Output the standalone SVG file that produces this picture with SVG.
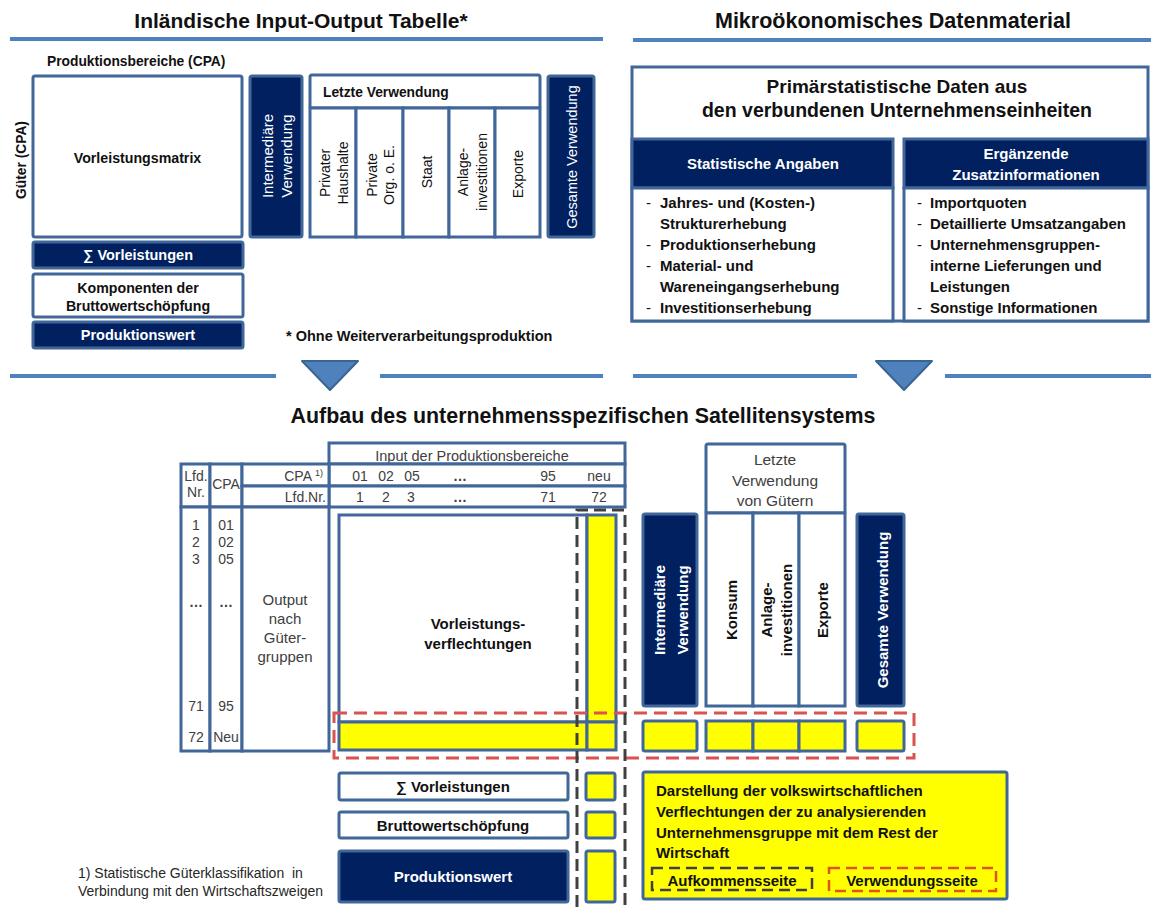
<svg xmlns="http://www.w3.org/2000/svg" width="1151" height="907" viewBox="0 0 1151 907">
<style>
text{font-family:"Liberation Sans",Arial,"DejaVu Sans",sans-serif;fill:#111}
.bx{stroke:#41679a;stroke-width:3}
.w{fill:#fff}
.d{fill:#002060}
.y{fill:#ffff00}
.b{font-weight:bold}
.m{text-anchor:middle}
.e{text-anchor:end}
.wt{fill:#fff}
.g{fill:#404040}
.sep{stroke:#4f81bd;stroke-width:4}
.tri{fill:#4f81bd;stroke:#3a6491;stroke-width:2;stroke-linejoin:round}
</style>

<g id="titles">
<text x="301" y="28" class="b m" font-size="21">Inländische Input-Output Tabelle*</text>
<text x="893" y="28" class="b m" font-size="21.5">Mikroökonomisches Datenmaterial</text>
<text x="583" y="423" class="b m" font-size="21.4">Aufbau des unternehmensspezifischen Satellitensystems</text>
</g>

<g id="separators">
<line x1="10" y1="39" x2="603" y2="39" class="sep"/>
<line x1="633" y1="40" x2="1151" y2="40" class="sep"/>
<line x1="10" y1="376" x2="276" y2="376" class="sep"/>
<line x1="380" y1="376" x2="603" y2="376" class="sep"/>
<line x1="633" y1="376" x2="857" y2="376" class="sep"/>
<line x1="945" y1="376" x2="1151" y2="376" class="sep"/>
<polygon points="302,361 358,361 330,390" class="tri"/>
<polygon points="876,361 932,361 904,390" class="tri"/>
</g>

<!-- Top left: IO table -->
<g id="io-labels">
<text x="47" y="66" class="b" font-size="13.8">Produktionsbereiche (CPA)</text>
<text transform="translate(21,160) rotate(-90)" y="5" class="b m" font-size="13.8">Güter (CPA)</text>
</g>
<g id="vorleistungsmatrix">
<rect x="33" y="76" width="209" height="161" rx="2" class="bx w"/>
<text x="137.5" y="163" class="b m" font-size="14.2">Vorleistungsmatrix</text>
</g>
<g id="intermediaere-top">
<rect x="250" y="76" width="52" height="161" rx="2" class="bx d"/>
<text transform="translate(268,156) rotate(-90)" y="5" class="m wt" font-size="15">Intermediäre</text>
<text transform="translate(287,156) rotate(-90)" y="5" class="m wt" font-size="15">Verwendung</text>
</g>
<g id="letzte-top">
<rect x="310" y="75" width="230" height="33" rx="2" class="bx w"/>
<text x="323" y="97" class="b" font-size="13.8">Letzte Verwendung</text>
<rect x="310" y="108" width="46" height="129" class="bx w"/>
<rect x="356" y="108" width="47" height="129" class="bx w"/>
<rect x="403" y="108" width="46" height="129" class="bx w"/>
<rect x="449" y="108" width="46" height="129" class="bx w"/>
<rect x="495" y="108" width="45" height="129" class="bx w"/>
<text transform="translate(325,173) rotate(-90)" y="5" class="m" font-size="14">Privater</text>
<text transform="translate(343,173) rotate(-90)" y="5" class="m" font-size="14">Haushalte</text>
<text transform="translate(372,175) rotate(-90)" y="5" class="m" font-size="14">Private</text>
<text transform="translate(389,175) rotate(-90)" y="5" class="m" font-size="14">Org. o. E.</text>
<text transform="translate(427,172) rotate(-90)" y="5" class="m" font-size="14">Staat</text>
<text transform="translate(463,172) rotate(-90)" y="5" class="m" font-size="14">Anlage-</text>
<text transform="translate(482,172) rotate(-90)" y="5" class="m" font-size="14">investitionen</text>
<text transform="translate(518,174) rotate(-90)" y="5" class="m" font-size="14">Exporte</text>
</g>
<g id="gesamte-top">
<rect x="548" y="76" width="46" height="161" rx="2" class="bx d"/>
<text transform="translate(572,157) rotate(-90)" y="5" class="m wt" font-size="14.5">Gesamte Verwendung</text>
</g>
<g id="summe-top">
<rect x="33" y="242" width="210" height="26" rx="2" class="bx d"/>
<text x="138" y="260" class="b m wt" font-size="14.5">∑ Vorleistungen</text>
</g>
<g id="komponenten-top">
<rect x="33" y="274" width="210" height="43" rx="2" class="bx w"/>
<text x="138" y="293" class="b m" font-size="14.2">Komponenten der</text>
<text x="138" y="311" class="b m" font-size="14.2">Bruttowertschöpfung</text>
</g>
<g id="produktionswert-top">
<rect x="33" y="322" width="210" height="26" rx="2" class="bx d"/>
<text x="138" y="340" class="b m wt" font-size="14.5">Produktionswert</text>
</g>
<g id="fussnote-top">
<text x="286" y="341" class="b" font-size="14.5">* Ohne Weiterverarbeitungsproduktion</text>
</g>

<!-- Top right: micro data -->
<g id="primaerstatistik">
<rect x="632" y="67" width="516" height="254" class="bx w"/>
<text x="897" y="93" class="b m" font-size="19">Primärstatistische Daten aus</text>
<text x="897" y="117" class="b m" font-size="19.5">den verbundenen Unternehmenseinheiten</text>
</g>
<g id="statistische-angaben">
<rect x="632" y="139" width="261" height="49" class="bx d"/>
<text x="763" y="169" class="b m wt" font-size="15">Statistische Angaben</text>
<rect x="632" y="188" width="261" height="133" class="bx w"/>
<g font-size="15">
<text x="646" y="208">-</text><text x="660" y="208" class="b">Jahres- und (Kosten-)</text>
<text x="660" y="229" class="b">Strukturerhebung</text>
<text x="646" y="250">-</text><text x="660" y="250" class="b">Produktionserhebung</text>
<text x="646" y="271">-</text><text x="660" y="271" class="b">Material- und</text>
<text x="660" y="292" class="b">Wareneingangserhebung</text>
<text x="646" y="313">-</text><text x="660" y="313" class="b">Investitionserhebung</text>
</g>
</g>
<g id="ergaenzende">
<rect x="904" y="139" width="244" height="49" class="bx d"/>
<text x="1026" y="159" class="b m wt" font-size="15">Ergänzende</text>
<text x="1026" y="180" class="b m wt" font-size="15">Zusatzinformationen</text>
<rect x="904" y="188" width="244" height="133" class="bx w"/>
<g font-size="15">
<text x="917" y="208">-</text><text x="930" y="208" class="b">Importquoten</text>
<text x="917" y="229">-</text><text x="930" y="229" class="b">Detaillierte Umsatzangaben</text>
<text x="917" y="250">-</text><text x="930" y="250" class="b">Unternehmensgruppen-</text>
<text x="930" y="271" class="b">interne Lieferungen und</text>
<text x="930" y="292" class="b">Leistungen</text>
<text x="917" y="313">-</text><text x="930" y="313" class="b">Sonstige Informationen</text>
</g>
</g>

<!-- Bottom: satellite system -->
<g id="kopf-input">
<rect x="329" y="443" width="296" height="21" class="bx w"/>
<text x="472" y="461" class="m g" font-size="14.5">Input der Produktionsbereiche</text>
<rect x="329" y="464" width="296" height="22" class="bx w"/>
<rect x="329" y="486" width="296" height="21" class="bx w"/>
<g class="g" font-size="14">
<text x="360" y="481" class="m g">01</text><text x="386" y="481" class="m g">02</text><text x="412" y="481" class="m g">05</text>
<text x="460" y="481" class="m g b">…</text><text x="548" y="481" class="m g">95</text><text x="599" y="481" class="m g">neu</text>
<text x="360" y="502" class="m g">1</text><text x="386" y="502" class="m g">2</text><text x="411" y="502" class="m g">3</text>
<text x="460" y="502" class="m g b">…</text><text x="548" y="502" class="m g">71</text><text x="599" y="502" class="m g">72</text>
</g>
</g>
<g id="kopf-links">
<rect x="181" y="464" width="29" height="43" class="bx w"/>
<rect x="210" y="464" width="32" height="43" class="bx w"/>
<rect x="242" y="464" width="87" height="22" class="bx w"/>
<rect x="242" y="486" width="87" height="21" class="bx w"/>
<text x="196" y="481" class="m g" font-size="14">Lfd.</text>
<text x="196" y="497" class="m g" font-size="14">Nr.</text>
<text x="226" y="489" class="m g" font-size="14">CPA</text>
<text x="312" y="481" class="e g" font-size="14">CPA</text>
<text x="315" y="476" class="g" font-size="9">1)</text>
<text x="326" y="502" class="e g" font-size="14">Lfd.Nr.</text>
</g>
<g id="spalte-lfd">
<rect x="181" y="507" width="29" height="244" class="bx w"/>
<g font-size="14">
<text x="196" y="530" class="m g">1</text><text x="196" y="547" class="m g">2</text><text x="196" y="564" class="m g">3</text>
<text x="196" y="607" class="m g b">…</text><text x="196" y="711" class="m g">71</text><text x="196" y="742" class="m g">72</text>
</g>
</g>
<g id="spalte-cpa">
<rect x="210" y="507" width="32" height="244" class="bx w"/>
<g font-size="14">
<text x="226" y="530" class="m g">01</text><text x="226" y="547" class="m g">02</text><text x="226" y="564" class="m g">05</text>
<text x="226" y="607" class="m g b">…</text><text x="226" y="711" class="m g">95</text><text x="226" y="742" class="m g">Neu</text>
</g>
</g>
<g id="spalte-output">
<rect x="242" y="507" width="87" height="244" class="bx w"/>
<g font-size="15">
<text x="285" y="605" class="m g">Output</text>
<text x="285" y="624" class="m g">nach</text>
<text x="285" y="643" class="m g">Güter-</text>
<text x="285" y="662" class="m g">gruppen</text>
</g>
</g>
<g id="vorleistungsverflechtungen">
<rect x="339" y="515" width="248" height="207" class="bx w"/>
<rect x="587" y="515" width="29" height="207" class="bx y"/>
<rect x="339" y="722" width="248" height="28" class="bx y"/>
<rect x="587" y="722" width="29" height="28" class="bx y"/>
<text x="478" y="629" class="b m" font-size="15">Vorleistungs-</text>
<text x="478" y="649" class="b m" font-size="15">verflechtungen</text>
</g>
<g id="intermediaere-unten">
<rect x="643" y="514" width="54" height="192" rx="2" class="bx d"/>
<text transform="translate(660,610) rotate(-90)" y="5" class="b m wt" font-size="15">Intermediäre</text>
<text transform="translate(683,610) rotate(-90)" y="5" class="b m wt" font-size="15">Verwendung</text>
<rect x="643" y="721" width="54" height="30" rx="2" class="bx y"/>
</g>
<g id="letzte-unten">
<rect x="706" y="444" width="139" height="69" rx="2" class="bx w"/>
<text x="775" y="465" class="m g" font-size="15.5">Letzte</text>
<text x="775" y="486" class="m g" font-size="15.5">Verwendung</text>
<text x="775" y="506" class="m g" font-size="15.5">von Gütern</text>
<rect x="706" y="513" width="47" height="193" class="bx w"/>
<rect x="753" y="513" width="46" height="193" class="bx w"/>
<rect x="799" y="513" width="46" height="193" class="bx w"/>
<text transform="translate(732,610) rotate(-90)" y="5" class="b m" font-size="15">Konsum</text>
<text transform="translate(767,610) rotate(-90)" y="5" class="b m" font-size="15">Anlage-</text>
<text transform="translate(787,610) rotate(-90)" y="5" class="b m" font-size="15">investitionen</text>
<text transform="translate(823,610) rotate(-90)" y="5" class="b m" font-size="15">Exporte</text>
<rect x="706" y="721" width="47" height="30" class="bx y"/>
<rect x="753" y="721" width="46" height="30" class="bx y"/>
<rect x="799" y="721" width="46" height="30" class="bx y"/>
</g>
<g id="gesamte-unten">
<rect x="857" y="514" width="47" height="192" rx="2" class="bx d"/>
<text transform="translate(883,610) rotate(-90)" y="5" class="b m wt" font-size="15">Gesamte Verwendung</text>
<rect x="857" y="721" width="47" height="30" rx="2" class="bx y"/>
</g>
<g id="summe-unten">
<rect x="339" y="773" width="229" height="27" rx="2" class="bx w"/>
<text x="453" y="792" class="b m" font-size="15">∑ Vorleistungen</text>
<rect x="586" y="773" width="29" height="27" rx="2" class="bx y"/>
</g>
<g id="bws-unten">
<rect x="339" y="812" width="229" height="26" rx="2" class="bx w"/>
<text x="453" y="831" class="b m" font-size="15">Bruttowertschöpfung</text>
<rect x="586" y="812" width="29" height="26" rx="2" class="bx y"/>
</g>
<g id="produktionswert-unten">
<rect x="339" y="851" width="229" height="51" rx="2" class="bx d"/>
<text x="453" y="882" class="b m wt" font-size="15">Produktionswert</text>
<rect x="586" y="851" width="29" height="51" rx="2" class="bx y"/>
</g>
<g id="fussnote-unten">
<text x="78" y="878" font-size="14" style="fill:#262626">1) Statistische Güterklassifikation &#160;in</text>
<text x="78" y="896" font-size="14" style="fill:#262626">Verbindung mit den Wirtschaftszweigen</text>
</g>
<g id="darstellung">
<rect x="643" y="772" width="364" height="127" rx="2" class="bx y"/>
<g font-size="15">
<text x="656" y="796" class="b">Darstellung der volkswirtschaftlichen</text>
<text x="656" y="817" class="b">Verflechtungen der zu analysierenden</text>
<text x="656" y="838" class="b">Unternehmensgruppe mit dem Rest der</text>
<text x="656" y="858" class="b">Wirtschaft</text>
</g>
<rect x="652" y="868" width="160" height="22" fill="none" stroke="#404040" stroke-width="2.5" stroke-dasharray="11 6"/>
<text x="732" y="886" class="b m" font-size="15">Aufkommensseite</text>
<rect x="829" y="868" width="167" height="23" fill="none" stroke="#e0541a" stroke-width="2.5" stroke-dasharray="11 6"/>
<text x="912" y="886" class="b m" font-size="15">Verwendungsseite</text>
</g>

<g id="connectors">
<rect x="334" y="713" width="580" height="45" fill="none" stroke="#d9534f" stroke-width="3" stroke-dasharray="13 7"/>
<path d="M577,907 V510 H625 V907" fill="none" stroke="#404040" stroke-width="3" stroke-dasharray="12 6"/>
</g>
</svg>
